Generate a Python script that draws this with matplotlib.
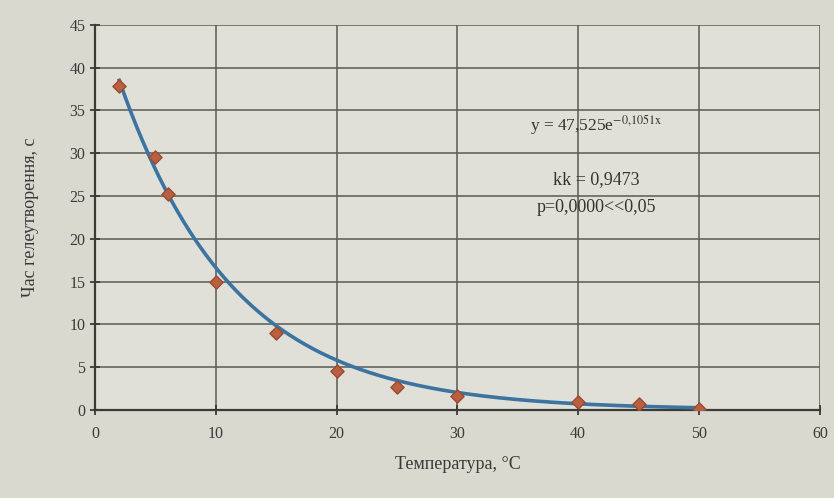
import numpy as np
import matplotlib
matplotlib.use('Agg')
import matplotlib.pyplot as plt

# measured points (temperature, gelation time)
temperature = [2, 5, 6, 10, 15, 20, 25, 30, 40, 45, 50]
gel_time = [37.8, 29.5, 25.2, 15.0, 9.0, 4.6, 2.7, 1.6, 0.9, 0.7, 0.1]

# trend line coefficients as printed on the chart
fit_a = 47.525
fit_b = -0.1051

x_ticks = [0, 10, 20, 30, 40, 50, 60]
y_ticks = [0, 5, 10, 15, 20, 25, 30, 35, 40, 45]

bg = '#d9d9d0'
plt.rcParams['font.family'] = ['Liberation Serif', 'DejaVu Serif']
plt.rcParams['mathtext.fontset'] = 'stix'

fig = plt.figure(figsize=(8.34, 4.98), dpi=100, facecolor=bg)
ax = fig.add_axes([0.114, 0.177, 0.869, 0.773])
ax.set_facecolor('#e0e0d8')

xs = np.linspace(min(temperature), max(temperature), 300)
ax.plot(xs, fit_a * np.exp(fit_b * xs), color='#3b74a0', lw=2.6, zorder=3)
ax.scatter(temperature, gel_time, marker='D', s=45, color='#b8603f',
           edgecolor='#9a4a32', zorder=4)

ax.set_xlim(0, 60)
ax.set_ylim(0, 45)
ax.set_xticks(x_ticks)
ax.set_yticks(y_ticks)
ax.grid(True, color='#5a5a55', lw=1.1)
ax.set_axisbelow(True)

for side in ['top', 'right']:
    ax.spines[side].set_visible(False)
for side in ['left', 'bottom']:
    ax.spines[side].set_color('#3a3a36')
    ax.spines[side].set_linewidth(1.6)
ax.tick_params(axis='both', direction='inout', length=7, width=1.3,
               colors='#3a3a36', labelsize=11.5, labelcolor='#3a3a3a')
ax.tick_params(axis='x', pad=8)

ax.set_xlabel('Температура, °C', fontsize=13, color='#3a3a3a', labelpad=10)
ax.set_ylabel('Час гелеутворення, с', fontsize=13, color='#3a3a3a', labelpad=22)

ax.text(41.5, 33.3, 'y = 47,525e$^{\\mathrm{-0{,}1051x}}$', fontsize=12.5,
        ha='center', va='center', color='#333333')
ax.text(41.5, 26.9, 'kk = 0,9473', fontsize=13, ha='center', va='center',
        color='#333333')
ax.text(41.5, 23.7, 'p=0,0000<<0,05', fontsize=13, ha='center', va='center',
        color='#333333')

fig.savefig('out.png', dpi=100, facecolor=bg)
